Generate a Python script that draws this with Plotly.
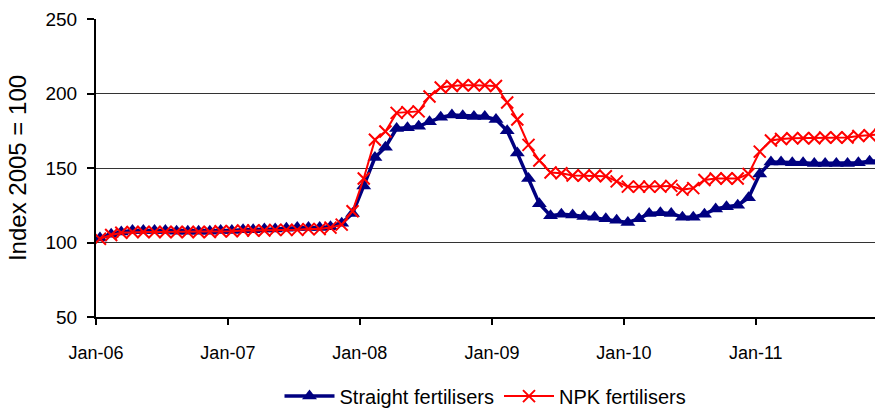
import plotly.graph_objects as go
import pandas as pd

months = pd.date_range("2006-01-01", periods=72, freq="MS") + pd.Timedelta(days=11)

straight = [
    103, 105.5, 107, 108, 108, 108, 108, 107.5, 107.5, 107.5, 107.5, 108,
    108, 108.5, 108.5, 109, 109, 109.5, 110, 110, 110, 110.5, 113, 119.5,
    138, 157, 164, 176.5, 177, 178, 181, 184, 185.5, 185, 184.5, 184.5,
    182.5, 175, 160, 143, 126, 118, 119, 118.5, 117.5, 117, 116, 115,
    113.5, 116, 119.5, 120, 119.5, 117, 117, 119, 122.5, 124, 125, 130,
    146, 154, 154, 153.5, 153.5, 153, 153, 153, 153, 153.5, 154.5, 155,
]
npk = [
    102.5, 105, 106.5, 107, 107, 107, 107, 107, 107, 107, 107, 107.5,
    107.5, 108, 108, 108, 108.5, 108.5, 108.5, 109, 109, 110, 112, 121,
    143, 169, 174.5, 187, 187.5, 188, 198, 204, 205, 205.5, 205.5, 205.5,
    205, 194, 182.5, 165.5, 155, 147, 146.5, 145, 145, 145, 144.5, 141,
    137.5, 137.5, 137.5, 137.5, 138, 135.5, 136.5, 142, 143, 143, 143, 146,
    161, 168.5, 169.5, 170, 170, 170, 170.5, 170.5, 170.5, 171.5, 172, 172.5,
]
tick_dates = ["2006-01-01", "2007-01-01", "2008-01-01", "2009-01-01", "2010-01-01", "2011-01-01"]
tick_labels = ["Jan-06", "Jan-07", "Jan-08", "Jan-09", "Jan-10", "Jan-11"]

FONT = "Liberation Sans, Arial, sans-serif"

fig = go.Figure()
fig.add_trace(go.Scatter(
    x=months, y=straight, name="Straight fertilisers", mode="lines+markers",
    line=dict(color="#000080", width=3.5),
    marker=dict(symbol="triangle-up", size=13, color="#000080"),
))
fig.add_trace(go.Scatter(
    x=months, y=npk, name="NPK fertilisers", mode="lines+markers",
    line=dict(color="#FF0000", width=2),
    marker=dict(symbol="x-thin", size=12, color="#FF0000",
                line=dict(color="#FF0000", width=2)),
))

fig.update_layout(
    width=875, height=414,
    margin=dict(l=96, r=0, t=19, b=97, autoexpand=False),
    paper_bgcolor="white", plot_bgcolor="white",
    font=dict(family=FONT, size=18, color="black"),
    showlegend=True,
    legend=dict(orientation="h", x=0.5, xanchor="center", y=-0.2, yanchor="top",
                font=dict(size=20, family=FONT), itemwidth=50),
)
fig.update_xaxes(
    type="date", range=["2006-01-01", "2011-11-27"],
    tickvals=tick_dates, ticktext=tick_labels,
    showgrid=False, showline=True, linecolor="black", linewidth=2,
    ticks="outside", ticklen=6, tickwidth=2, tickcolor="black",
    ticklabelstandoff=12, tickfont=dict(size=18, family=FONT),
    zeroline=False, automargin=False,
)
fig.update_yaxes(
    range=[50, 250], dtick=50, tick0=50,
    showgrid=True, gridcolor="#333333", gridwidth=1,
    showline=True, linecolor="black", linewidth=2,
    ticks="outside", ticklen=7, tickwidth=2, tickcolor="black",
    ticklabelstandoff=6, tickfont=dict(size=19, family=FONT),
    title=dict(text="Index 2005 = 100", font=dict(size=24, family=FONT), standoff=12),
    zeroline=False, automargin=False,
)

fig.write_html(
    "out.html",
    config={"displayModeBar": False},
    post_script="document.body.style.margin='0';document.body.style.overflow='hidden';",
)
